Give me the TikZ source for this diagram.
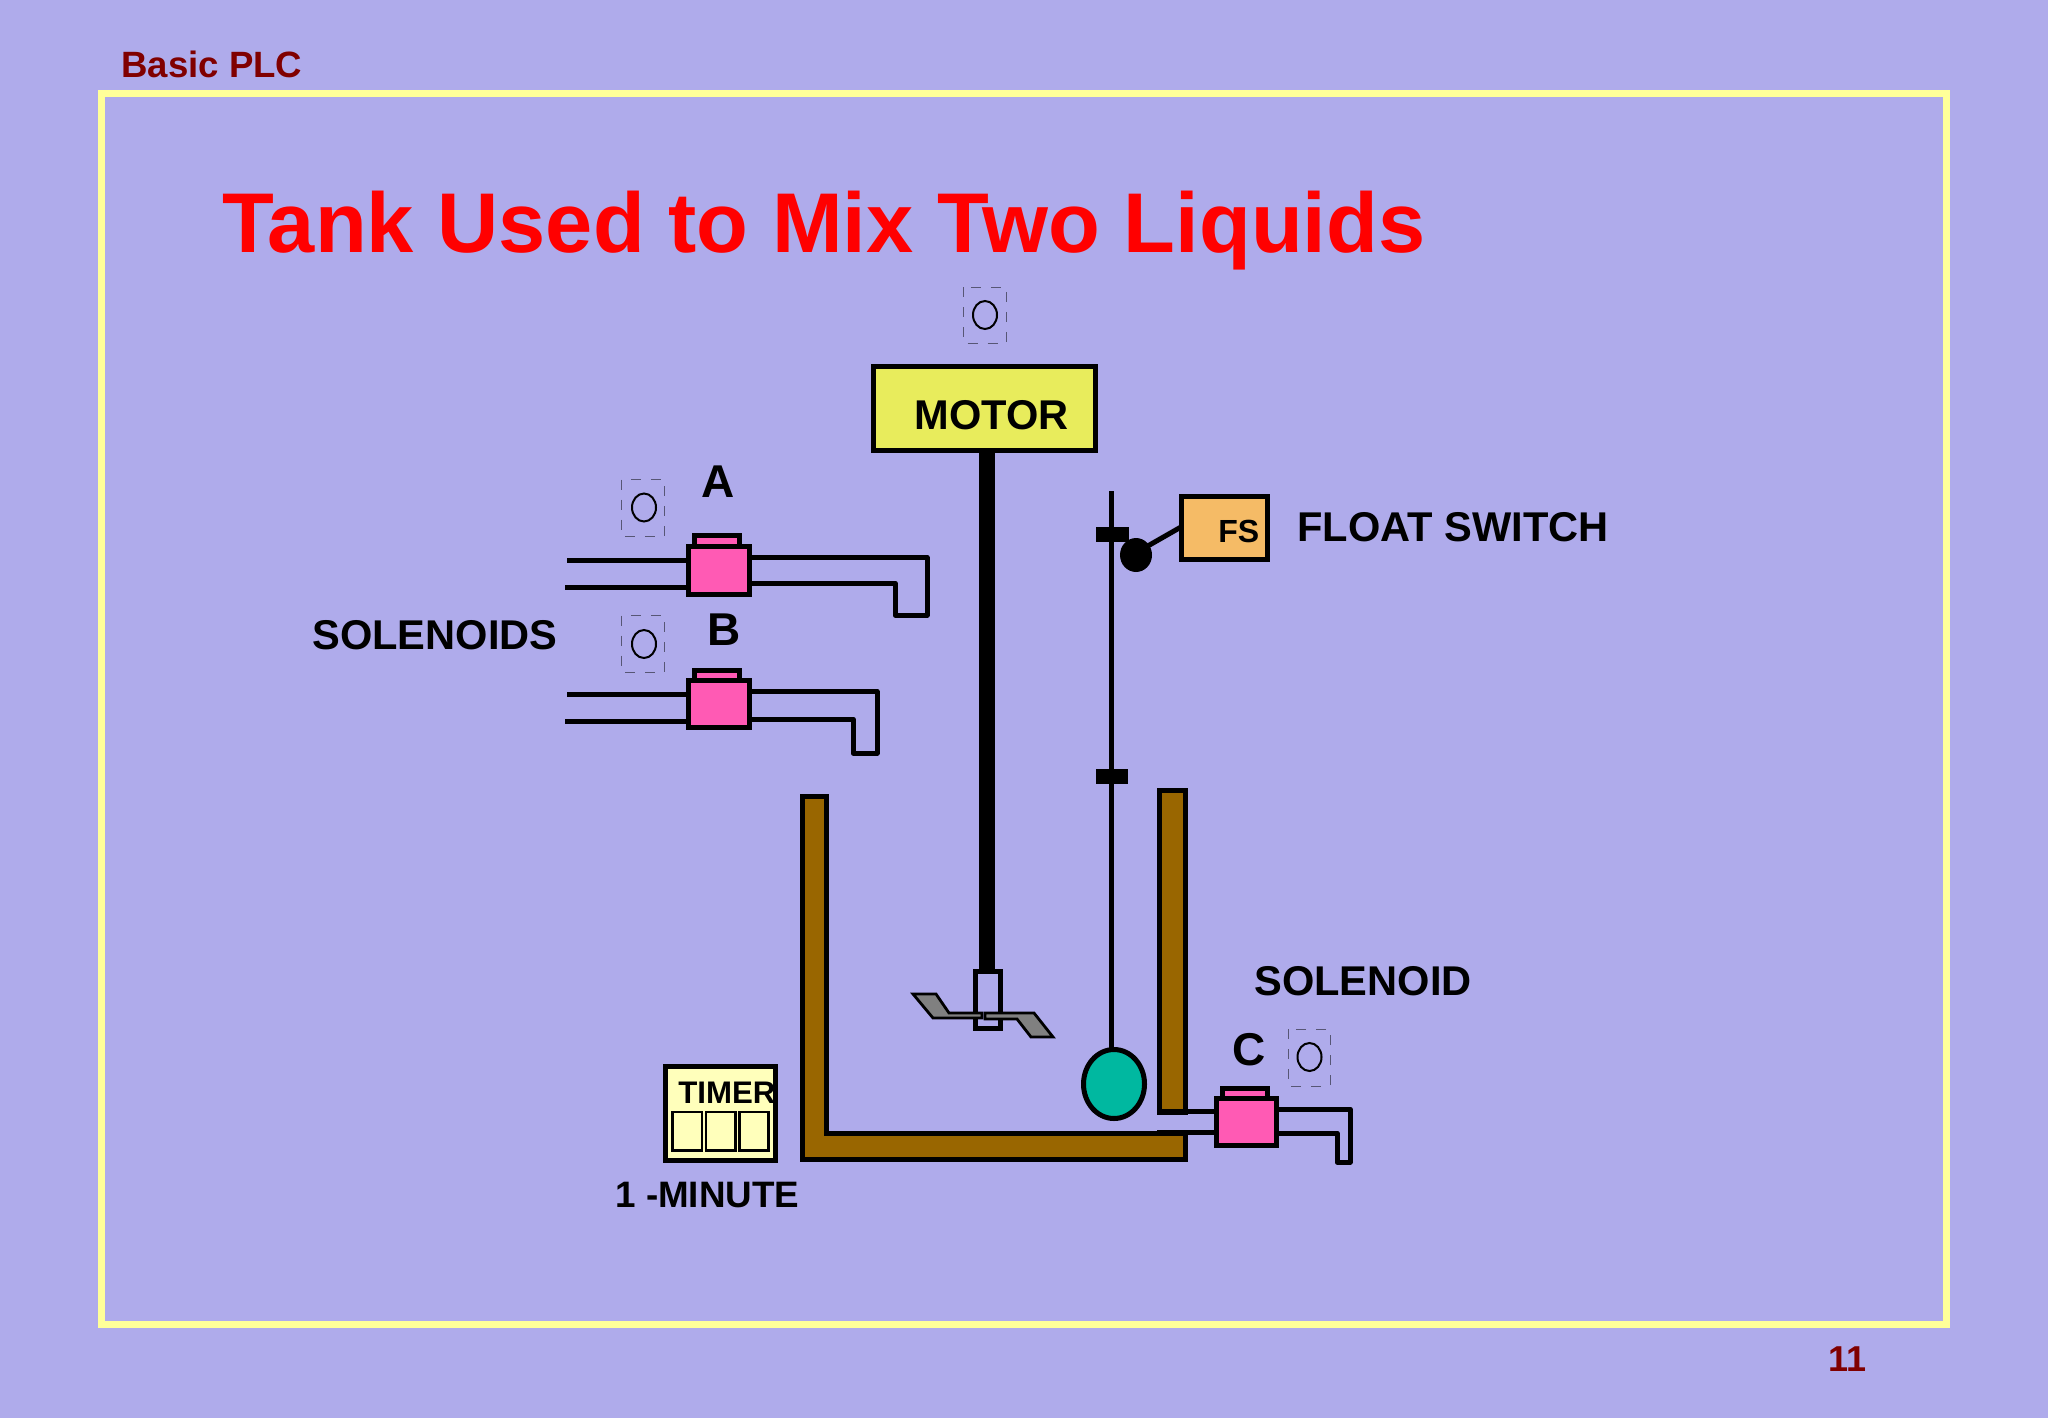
\documentclass[tikz,border=0pt]{standalone}
\usepackage{fontspec}
\setmainfont{Liberation Sans}
\usetikzlibrary{shapes}
\definecolor{slidebg}{RGB}{175,171,235}
\definecolor{framecol}{RGB}{255,255,153}
\definecolor{headred}{RGB}{128,0,0}
\definecolor{valvepink}{RGB}{255,90,180}
\definecolor{motoryel}{RGB}{232,236,92}
\definecolor{fsorange}{RGB}{245,187,102}
\definecolor{tankbrown}{RGB}{153,102,0}
\definecolor{floatteal}{RGB}{0,184,160}
\definecolor{timeryel}{RGB}{255,255,187}
\tikzset{
  pipe/.style={draw=black,line width=2.5pt,line join=round},
  part/.style={draw=black,line width=2.5pt,line join=miter},
  thin part/.style={draw=black,line width=1.2pt},
  blade/.style={draw=black,line width=1.4pt,fill=black!50,line join=miter},
  coil mark/.style={draw=black,line width=1pt},
  coil box/.style={draw=black!50!slidebg,line width=0.5pt,dash pattern={on 5pt off 5pt}},
  label text/.style={anchor=base west,inner sep=0pt,font=\fontsize{20.8}{25}\selectfont\bfseries},
  letter text/.style={anchor=base,inner sep=0pt,font=\fontsize{23}{27}\selectfont\bfseries},
}
\begin{document}
\begin{tikzpicture}[x=0.5pt,y=0.5pt,yscale=-1,xscale=1]
\useasboundingbox (0,0) rectangle (2048,1418);
\fill [slidebg] (0,0) rectangle (2048,1418);
%Frame
\draw [framecol,line width=3.5pt] (101,93.5) rectangle (1946,1324);

% Text Node
\node (heading) [anchor=base west,inner sep=0pt,font=\fontsize{18.3}{22}\selectfont\bfseries,text=headred] at (121,78) {Basic PLC};
\node (pageno) [anchor=base west,inner sep=0pt,font=\fontsize{18}{22}\selectfont\bfseries,text=headred] at (1828,1371) {11};
\node (title) [anchor=base west,inner sep=0pt,font=\fontsize{42.4}{50}\selectfont\bfseries,text=red] at (222,252) {Tank Used to Mix Two Liquids};

%Tank
\draw [part,fill=tankbrown] (802.5,796.5) -- (826,796.5) -- (826,1133.5) -- (1185.5,1133.5) -- (1185.5,1159.5) -- (802.5,1159.5) -- cycle;
\draw [part,fill=tankbrown] (1159.5,790.5) rectangle (1185,1112.5);

%Motor and shaft
\draw [black,line width=8pt] (987,450) -- (987,972);
\draw [part,fill=motoryel] (873.5,366.5) rectangle (1095.5,450.5);
\node (motor) [label text] at (914,429) {MOTOR};
\draw [part] (975.5,971.5) rectangle (1000,1028.5);
\draw [blade] (913,994) -- (936,994) -- (949,1013) -- (982,1013) -- (982,1018) -- (933,1018) -- cycle;
\draw [blade] (985,1013) -- (1034,1013) -- (1053,1037) -- (1031,1037) -- (1017,1019) -- (985,1019) -- cycle;

%Float rod
\draw [black,line width=2.5pt] (1111,491) -- (1111,1050);
\fill [black] (1096,527) rectangle (1129,542);
\fill [black] (1096,769) rectangle (1128,784);
\draw [part,fill=floatteal] (1114,1084) ellipse (30.5 and 34.5);

%Float switch
\draw [part,fill=fsorange] (1181.5,496.5) rectangle (1267.5,559.5);
\node (fs) [anchor=base west,inner sep=0pt,font=\fontsize{16}{19}\selectfont\bfseries] at (1218,542) {FS};
\fill [black] (1136,555) ellipse (16 and 17);
\draw [black,line width=2.5pt] (1146,547) -- (1181,527);
\node (floatswitch) [label text] at (1297,541) {FLOAT SWITCH};

%Valve A
\draw [pipe] (567,560) -- (690,560);
\draw [pipe] (565,587) -- (690,587);
\draw [pipe] (750,557.5) -- (927,557.5) -- (927,615) -- (895,615) -- (895,583) -- (750,583);
\draw [part,fill=valvepink] (694.5,535.5) rectangle (739.5,548);
\draw [part,fill=valvepink] (688.5,546.5) rectangle (749.5,594.5);
\node (a) [letter text] at (718.5,497) {A};

%Valve B
\draw [pipe] (567,694) -- (690,694);
\draw [pipe] (565,721) -- (690,721);
\draw [pipe] (750,691.5) -- (877,691.5) -- (877,753) -- (853,753) -- (853,719) -- (750,719);
\draw [part,fill=valvepink] (694.5,670.5) rectangle (739.5,682);
\draw [part,fill=valvepink] (688.5,680.5) rectangle (749.5,727.5);
\node (b) [letter text] at (724.5,645) {B};

%Valve C
\draw [pipe] (1157,1111) -- (1217,1111);
\draw [pipe] (1157,1132) -- (1217,1132);
\draw [pipe] (1277,1109) -- (1350,1109) -- (1350,1162) -- (1337,1162) -- (1337,1133) -- (1277,1133);
\draw [part,fill=valvepink] (1222.5,1088.5) rectangle (1267.5,1100);
\draw [part,fill=valvepink] (1216.5,1098.5) rectangle (1276.5,1145.5);
\node (c) [letter text] at (1249,1065) {C};

%Coils
\draw [coil box] (621.5,479.5) rectangle (664.5,536);
\draw [coil mark] (644,507.5) ellipse (12 and 14);
\draw [coil box] (621.5,615.5) rectangle (664.5,672);
\draw [coil mark] (644,644) ellipse (12 and 14);
\draw [coil box] (963.5,287) rectangle (1006,343);
\draw [coil mark] (985,315) ellipse (12 and 14);
\draw [coil box] (1288,1029) rectangle (1330,1086);
\draw [coil mark] (1309.5,1057) ellipse (12 and 14);

%Timer
\draw [part,fill=timeryel] (665.5,1066.5) rectangle (775.5,1160.5);
\node (timer) [anchor=base west,inner sep=0pt,font=\fontsize{15.6}{18}\selectfont\bfseries] at (678,1103) {TIMER};
\draw [thin part] (672.5,1112) rectangle (702,1150.5);
\draw [thin part] (706,1112) rectangle (735.5,1150.5);
\draw [thin part] (739.5,1112) rectangle (768.5,1150.5);

% Text Node
\node (oneminute) [anchor=base west,inner sep=0pt,font=\fontsize{18.4}{23}\selectfont\bfseries] at (615,1207) {1 -MINUTE};
\node (solenoids) [label text] at (312,649) {SOLENOIDS};
\node (solenoid) [label text] at (1254,995) {SOLENOID};

\end{tikzpicture}
\end{document}
